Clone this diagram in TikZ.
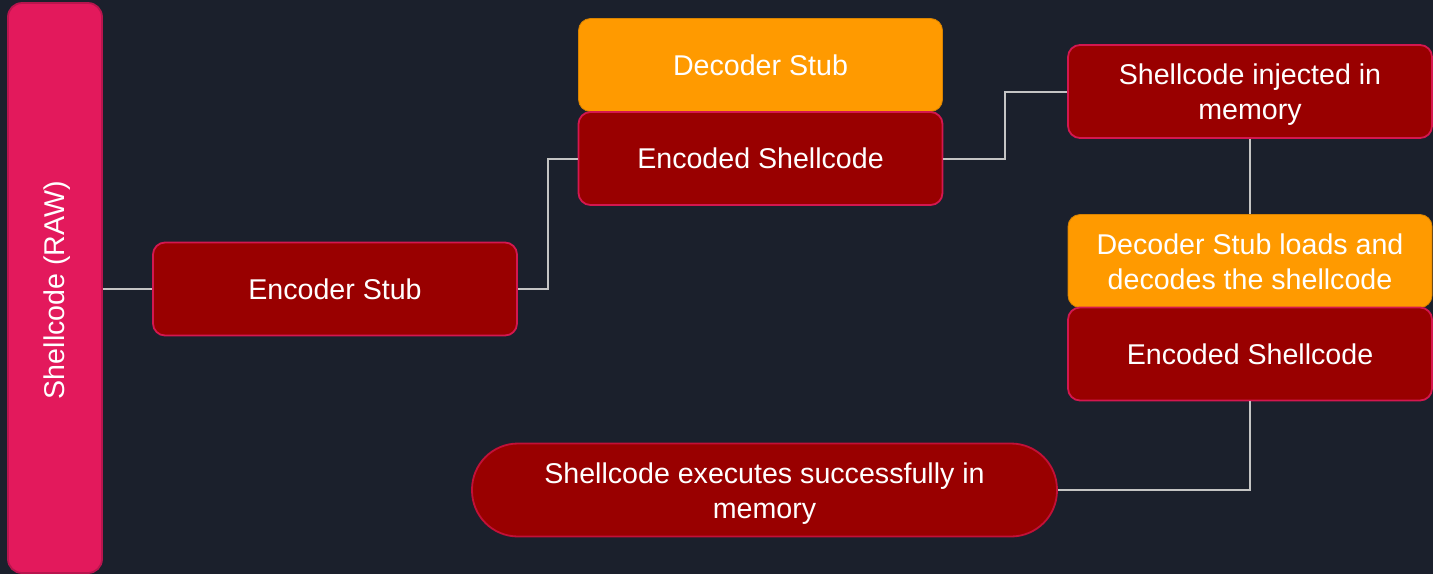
\documentclass[tikz,border=0pt]{standalone}
\usepackage{fontspec}
\setmainfont{Liberation Sans}
\definecolor{bgnavy}{HTML}{1B202C}
\definecolor{rawpink}{HTML}{E3195C}
\definecolor{rawedge}{HTML}{B8154E}
\definecolor{stepred}{HTML}{990000}
\definecolor{stepedge}{HTML}{D4174F}
\definecolor{stuborange}{HTML}{FF9A00}
\definecolor{wire}{HTML}{C4C4C4}
% two centred lines, set a little lower inside their box
\newcommand\pairlines[2]{\raisebox{-1.75pt}[\height][\depth]{%
  \begin{tabular}{@{}c@{}}#1\\#2\end{tabular}}}
\begin{document}
\begin{tikzpicture}[x=0.5pt,y=-0.5pt,
  every node/.style={text=white,font=\fontsize{14.3pt}{17.5pt}\selectfont,align=center,inner sep=0pt},
  redbox/.style={fill=stepred,draw=stepedge,line width=0.9pt,rounded corners=6pt,
    minimum width=182pt,minimum height=46.5pt},
  orangebox/.style={fill=stuborange,draw=stuborange!85!black,line width=0.4pt,rounded corners=6pt,
    minimum width=182pt,minimum height=46.5pt},
  link/.style={draw=wire,line width=1pt}]
  % canvas
  \fill[bgnavy] (0,0) rectangle (1433,574);
  \useasboundingbox (0,0) rectangle (1433,574);

  % source column
  \node[fill=rawpink,draw=rawedge,line width=0.9pt,rounded corners=7pt,
    minimum width=47pt,minimum height=285pt] (raw) at (55,288) {};
  \node[rotate=90] (rawtxt) at (57,290) {Shellcode (RAW)};

  % encoding stage
  \node[redbox] (enc) at (335,289) {Encoder Stub};
  \node[orangebox] (dstub) at (760.5,65) {Decoder Stub};
  \node[redbox] (encsc) at (760.5,158.5) {Encoded Shellcode};

  % runtime stage
  \node[redbox] (inj) at (1250,91.5) {\pairlines{Shellcode injected in}{memory}};
  \node[orangebox] (loads) at (1250,261) {\pairlines{Decoder Stub loads and}{decodes the shellcode}};
  \node[redbox] (encsc2) at (1250,354) {Encoded Shellcode};
  \node[fill=stepred,draw=stepedge!70!stepred,line width=0.9pt,rounded corners=23pt,
    minimum width=292.5pt,minimum height=46.5pt] (run) at (764.5,490)
    {\pairlines{Shellcode executes successfully in}{memory}};

  % connectors
  \coordinate (j1) at (548,0);
  \coordinate (j2) at (1005,0);
  \draw[link] (raw.east |- enc.west) -- (enc.west);
  \draw[link] (enc.east) -- (j1 |- enc.east) -- (j1 |- encsc.west) -- (encsc.west);
  \draw[link] (encsc.east) -- (j2 |- encsc.east) -- (j2 |- inj.west) -- (inj.west);
  \draw[link] (inj.south) -- (loads.north);
  \draw[link] (encsc2.south) -- (encsc2.south |- run.east) -- (run.east);
\end{tikzpicture}
\end{document}
